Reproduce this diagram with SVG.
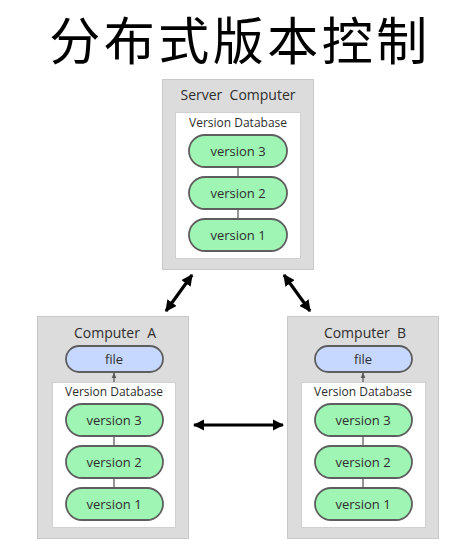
<svg xmlns="http://www.w3.org/2000/svg" width="474" height="553" viewBox="0 0 474 553">
<defs>
<marker id="ah" viewBox="0 0 10 10" refX="9" refY="5" markerWidth="3.6" markerHeight="3.6" orient="auto-start-reverse" markerUnits="strokeWidth">
<path d="M0,0 L10,5 L0,10 Z" fill="#000"/>
</marker>
<marker id="sm" viewBox="0 0 10 10" refX="9" refY="5" markerWidth="6" markerHeight="6" orient="auto" markerUnits="userSpaceOnUse">
<path d="M0,1 L10,5 L0,9 Z" fill="#555"/>
</marker>
<style>
.box{fill:#dcdcdc;stroke:#c9c9c9;stroke-width:1}
.db{fill:#fff;stroke:#d0d0d0;stroke-width:1}
.v{fill:#9ef5b4;stroke:#5e5e5e;stroke-width:1.8}
.f{fill:#c6d8fd;stroke:#5e5e5e;stroke-width:1.8}
.t{font-family:"Open Sans","Noto Sans","DejaVu Sans",sans-serif;fill:#2e2e2e;text-anchor:middle;white-space:pre}
.h{font-size:14px}
.s{font-size:12px}
.p{font-size:13px}
.ln{stroke:#5e5e5e;stroke-width:1.3}
.ar{stroke:#000;stroke-width:3.2;fill:none;marker-start:url(#ah);marker-end:url(#ah)}
</style>
</defs>
<text x="240" y="60" font-family="Noto Sans CJK SC, sans-serif" font-size="51" letter-spacing="3.5" fill="#000" text-anchor="middle">分布式版本控制</text>

<g id="server">
<rect class="box" x="162.5" y="79.5" width="151" height="190"/>
<text class="t h" x="238" y="100" xml:space="preserve">Server  Computer</text>
<rect class="db" x="175.5" y="112.5" width="125" height="146"/>
<text class="t s" x="238" y="127">Version Database</text>
<line class="ln" x1="238" y1="167" x2="238" y2="177"/>
<line class="ln" x1="238" y1="209" x2="238" y2="219"/>
<rect class="v" x="189" y="135" width="98" height="32" rx="16"/>
<text class="t p" x="238" y="156">version 3</text>
<rect class="v" x="189" y="177" width="98" height="32" rx="16"/>
<text class="t p" x="238" y="198">version 2</text>
<rect class="v" x="189" y="219" width="98" height="32" rx="16"/>
<text class="t p" x="238" y="240">version 1</text>
</g>

<g id="computerA">
<rect class="box" x="37.5" y="316.5" width="151" height="222"/>
<text class="t h" x="115" y="338" xml:space="preserve">Computer  A</text>
<rect class="f" x="66" y="346" width="97" height="26" rx="13"/>
<text class="t p" x="114" y="364">file</text>
<rect class="db" x="52.5" y="382.5" width="123" height="145"/>
<line class="ln" x1="114" y1="382" x2="114" y2="373" marker-end="url(#sm)"/>
<text class="t s" x="114" y="396">Version Database</text>
<line class="ln" x1="114" y1="436" x2="114" y2="445"/>
<line class="ln" x1="114" y1="478" x2="114" y2="488"/>
<rect class="v" x="66" y="404" width="97" height="32" rx="16"/>
<text class="t p" x="114" y="425">version 3</text>
<rect class="v" x="66" y="446" width="97" height="32" rx="16"/>
<text class="t p" x="114" y="467">version 2</text>
<rect class="v" x="66" y="488" width="97" height="32" rx="16"/>
<text class="t p" x="114" y="509">version 1</text>
</g>

<g id="computerB">
<rect class="box" x="287.5" y="316.5" width="151" height="222"/>
<text class="t h" x="365" y="338" xml:space="preserve">Computer  B</text>
<rect class="f" x="315" y="346" width="97" height="26" rx="13"/>
<text class="t p" x="363" y="364">file</text>
<rect class="db" x="301.5" y="382.5" width="124" height="145"/>
<line class="ln" x1="363" y1="382" x2="363" y2="373" marker-end="url(#sm)"/>
<text class="t s" x="363" y="396">Version Database</text>
<line class="ln" x1="363" y1="436" x2="363" y2="445"/>
<line class="ln" x1="363" y1="478" x2="363" y2="488"/>
<rect class="v" x="315" y="404" width="97" height="32" rx="16"/>
<text class="t p" x="363" y="425">version 3</text>
<rect class="v" x="315" y="446" width="97" height="32" rx="16"/>
<text class="t p" x="363" y="467">version 2</text>
<rect class="v" x="315" y="488" width="97" height="32" rx="16"/>
<text class="t p" x="363" y="509">version 1</text>
</g>

<g id="connectors">
<line class="ar" x1="192" y1="275" x2="166" y2="311"/>
<line class="ar" x1="284" y1="275" x2="310" y2="311"/>
<line class="ar" x1="194" y1="425" x2="283" y2="425"/>
</g>
</svg>
